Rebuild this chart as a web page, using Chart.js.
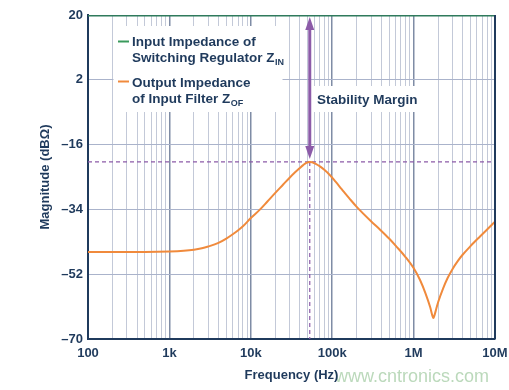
<!DOCTYPE html>
<html><head><meta charset="utf-8">
<script src="https://cdn.jsdelivr.net/npm/chart.js@4.4.1/dist/chart.umd.min.js"></script>
<style>html,body{margin:0;padding:0;background:#fff;}#wrap{width:509px;height:390px;}</style>
</head><body><div id="wrap"><canvas id="c" width="509" height="390"></canvas></div>
<script>
// ---- data ----
const freqHz = [100, 500, 1000, 1500, 2000, 2500, 3000, 4000, 5000, 6000, 7000, 8000, 10000, 13000, 16000, 20000, 25000, 30000, 35000, 40000, 44000, 48000, 53000, 57000, 62000, 70000, 80000, 94000, 110000, 130000, 166000, 200000, 300000, 390000, 500000, 620000, 800000, 1000000, 1200000, 1400000, 1600000, 1700000, 1750000, 1800000, 1900000, 2000000, 2300000, 2600000, 3000000, 3500000, 4000000, 5000000, 6500000, 8000000, 10000000];
const zofDb  = [-45.8, -45.8, -45.7, -45.5, -45.2, -44.8, -44.3, -43.3, -42.1, -40.9, -39.8, -38.7, -36.4, -34.0, -31.8, -29.4, -27.1, -25.2, -23.7, -22.5, -21.7, -21.1, -20.8, -20.9, -21.3, -22.0, -23.0, -24.5, -26.3, -28.3, -31.2, -33.3, -37.3, -39.7, -42.1, -44.4, -47.3, -50.3, -53.6, -57.3, -61.2, -63.5, -64.2, -63.5, -61.6, -59.8, -56.0, -53.2, -50.6, -48.3, -46.6, -44.2, -41.6, -39.6, -37.4];
const zinFreq = [100, 10000000];
const zinDb   = [20, 20];

const xMajorValues = [100, 1000, 10000, 100000, 1000000, 10000000];
const xMajorLabels = ['100', '1k', '10k', '100k', '1M', '10M'];
const yTickValues  = [-70, -52, -34, -16, 2, 20];
const yTickLabels  = ['\u201370', '\u201352', '\u201334', '\u201316', '2', '20'];

const legendLines1 = ['Input Impedance of', 'Switching Regulator Z', 'IN'];
const legendLines2 = ['Output Impedance', 'of Input Filter Z', 'OF'];
const marginLabel = 'Stability Margin';
const xTitle = 'Frequency (Hz)';
const yTitle = 'Magnitude (dB\u03A9)';
const watermark = 'www.cntronics.com';

// ---- styles ----
const NAVY = '#1f3a5c';
const PURPLE = '#8c5ba8';
const ORANGE = '#f08a3c';
const GREEN = '#2f7a5c';
const FONT = '"Liberation Sans", Arial, sans-serif';

const xAllTicks = [];
for (let d = 0; d < xMajorValues.length; d++) {
  const base = xMajorValues[d];
  xAllTicks.push(base);
  if (d < xMajorValues.length - 1) for (let m = 2; m <= 9; m++) xAllTicks.push(base * m);
}
const isMajor = v => xMajorValues.indexOf(v) >= 0;

function drawWithSub(c, text, sub, x, yb, font, subFont) {
  c.font = font; c.fillText(text, x, yb);
  const w = c.measureText(text).width;
  c.font = subFont; c.fillText(sub, x + w + 0.5, yb + 3);
}
function peakIndex() { let pi = 0; zofDb.forEach((v, i) => { if (v > zofDb[pi]) pi = i; }); return pi; }

const annot = {
  id: 'annot',
  beforeDraw(chart) {
    const c = chart.ctx;
    c.save();
    c.font = '18px ' + FONT;
    c.fillStyle = 'rgba(120,180,120,0.5)';
    c.textAlign = 'right'; c.textBaseline = 'alphabetic';
    c.fillText(watermark, 489, 382);
    c.restore();
  },
  beforeDatasetsDraw(chart) {
    const c = chart.ctx, a = chart.chartArea, x = chart.scales.x, y = chart.scales.y;
    c.save();
    c.fillStyle = '#fff';
    c.fillRect(113.5, 26, 169, 86);
    c.fillRect(313, 86, 108, 26);
    const pi = peakIndex();
    const px = x.getPixelForValue(freqHz[pi]), py = y.getPixelForValue(zofDb[pi]);
    c.setLineDash([4, 3]);
    c.strokeStyle = PURPLE; c.lineWidth = 1.2;
    c.beginPath(); c.moveTo(a.left, py); c.lineTo(a.right, py); c.stroke();
    c.beginPath(); c.moveTo(px, py); c.lineTo(px, a.bottom); c.stroke();
    c.restore();
  },
  afterDatasetsDraw(chart) {
    const c = chart.ctx, a = chart.chartArea, x = chart.scales.x, y = chart.scales.y;
    c.save();
    c.strokeStyle = NAVY; c.lineWidth = 2;
    c.beginPath(); c.moveTo(a.right, a.top); c.lineTo(a.right, a.bottom); c.stroke();
    const pi = peakIndex();
    const ax = x.getPixelForValue(freqHz[pi]);
    const top = y.getPixelForValue(zinDb[0]) + 2, bot = y.getPixelForValue(zofDb[pi]) - 3;
    c.strokeStyle = PURPLE; c.fillStyle = PURPLE; c.lineWidth = 3;
    c.beginPath(); c.moveTo(ax, top + 10); c.lineTo(ax, bot - 10); c.stroke();
    c.beginPath(); c.moveTo(ax, top); c.lineTo(ax - 4.5, top + 13); c.lineTo(ax + 4.5, top + 13); c.closePath(); c.fill();
    c.beginPath(); c.moveTo(ax, bot); c.lineTo(ax - 4.5, bot - 13); c.lineTo(ax + 4.5, bot - 13); c.closePath(); c.fill();
    c.lineWidth = 2;
    c.strokeStyle = '#3a9a5c';
    c.beginPath(); c.moveTo(118, 41.5); c.lineTo(129, 41.5); c.stroke();
    c.strokeStyle = ORANGE;
    c.beginPath(); c.moveTo(118, 81.5); c.lineTo(129, 81.5); c.stroke();
    c.fillStyle = NAVY; c.textAlign = 'left'; c.textBaseline = 'alphabetic';
    const f = 'bold 13.5px ' + FONT, sf = 'bold 9px ' + FONT;
    c.font = f;
    c.fillText(legendLines1[0], 132, 45.5);
    drawWithSub(c, legendLines1[1], legendLines1[2], 132, 62, f, sf);
    c.font = f;
    c.fillText(legendLines2[0], 132, 86.5);
    drawWithSub(c, legendLines2[1], legendLines2[2], 132, 102.5, f, sf);
    c.font = f;
    c.fillText(marginLabel, 317, 103.5);
    c.restore();
  }
};

new Chart(document.getElementById('c').getContext('2d'), {
  type: 'line',
  data: {
    datasets: [
      { label: 'Z_IN', data: zinFreq.map((f, i) => ({ x: f, y: zinDb[i] })), borderColor: GREEN, borderWidth: 3, pointRadius: 0, fill: false },
      { label: 'Z_OF', data: freqHz.map((f, i) => ({ x: f, y: zofDb[i] })), borderColor: ORANGE, borderWidth: 2, pointRadius: 0, fill: false, cubicInterpolationMode: 'monotone' }
    ]
  },
  options: {
    responsive: false, animation: false, devicePixelRatio: 1,
    layout: { padding: { top: 15, right: 14, left: 0, bottom: 0 } },
    plugins: { legend: { display: false }, tooltip: { enabled: false } },
    scales: {
      x: {
        type: 'logarithmic', min: 100, max: 10000000,
        afterBuildTicks: s => { s.ticks = xAllTicks.map(v => ({ value: v, major: isMajor(v) })); },
        afterFit: s => { s.height = 51; s.paddingLeft = 0; s.paddingRight = 0; },
        ticks: {
          autoSkip: false, maxRotation: 0, minRotation: 0, padding: 7, color: NAVY,
          font: { family: FONT, size: 13, weight: 'bold' },
          callback: v => { const i = xMajorValues.indexOf(v); return i >= 0 ? xMajorLabels[i] : ''; }
        },
        grid: {
          drawTicks: false,
          color: c => (c.tick && isMajor(c.tick.value)) ? '#7f8ca5' : '#c3c9d8',
          lineWidth: c => (c.tick && isMajor(c.tick.value)) ? 1.5 : 1
        },
        border: { color: NAVY, width: 2 },
        title: { display: true, text: xTitle, color: NAVY, font: { family: FONT, size: 13, weight: 'bold' }, padding: { top: 0, bottom: 7 } }
      },
      y: {
        min: -70, max: 20,
        afterBuildTicks: s => { s.ticks = yTickValues.map(v => ({ value: v })); },
        afterFit: s => { s.width = 88; s.paddingTop = 0; s.paddingBottom = 0; },
        ticks: {
          padding: 5, color: NAVY,
          font: { family: FONT, size: 13, weight: 'bold' },
          callback: v => { const i = yTickValues.indexOf(v); return i >= 0 ? yTickLabels[i] : ''; }
        },
        grid: {
          drawTicks: false,
          color: c => (c.tick && c.tick.value === 20) ? 'rgba(0,0,0,0)' : '#aab3cb',
          lineWidth: 1
        },
        border: { color: NAVY, width: 2 },
        title: { display: true, text: yTitle, color: NAVY, font: { family: FONT, size: 13, weight: 'bold' }, padding: { top: 38, bottom: 0 } }
      }
    }
  },
  plugins: [annot]
});
</script>
</body></html>
